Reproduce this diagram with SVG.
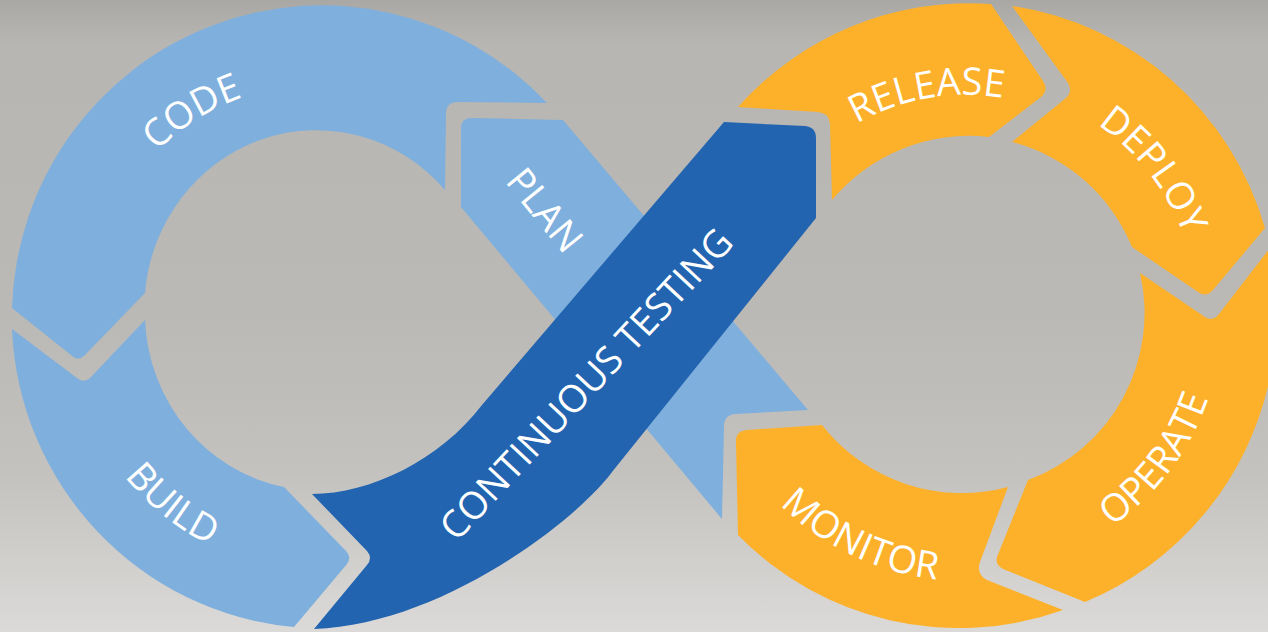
<svg xmlns="http://www.w3.org/2000/svg" xmlns:xlink="http://www.w3.org/1999/xlink" width="1268" height="632" viewBox="0 0 1268 632">
<defs>
<linearGradient id="bg" x1="0" y1="0" x2="0" y2="1">
<stop offset="0" stop-color="#a9a8a5"/>
<stop offset="0.07" stop-color="#b7b6b2"/>
<stop offset="0.5" stop-color="#bab9b5"/>
<stop offset="0.75" stop-color="#c3c2bf"/>
<stop offset="1" stop-color="#dbdad8"/>
</linearGradient>
<path id="pCode" d="M 116.4,206 A 227,231 0 0 1 310.2,85.1"/>
<path id="pBuild" d="M 86.2,410.9 A 250,254 0 0 0 282.4,567.5"/>
<path id="pRelease" d="M 823.9,146.7 A 220,220 0 0 1 1041.6,108.3"/>
<path id="pDeploy" d="M 1053,101 A 231,231 0 0 1 1195.7,283.7"/>
<path id="pOperate" d="M 1066,551.6 A 256,256 0 0 0 1220.1,347.2"/>
<path id="pMonitor" d="M 747.6,466.1 A 265,265 0 0 0 986.8,580.2"/>
</defs>
<style>
.lb{fill:#7fafdd}
.db{fill:#2264b0}
.or{fill:#fdb12b}
.lbl{font-family:"Open Sans","Liberation Sans",sans-serif;font-size:38px;fill:#ffffff}
</style>
<rect x="0" y="0" width="1268" height="632" fill="url(#bg)"/>
<g id="code">
<path class="lb" d="M 12,308 A 310,312.5 0 0 1 547,103 L 458,102 Q 446,102 446,114 L 445,190 A 172,178 0 0 0 145,293 L 85,355 Q 78,362 71,355 Z"/>
<text class="lbl" text-anchor="middle"><textPath xlink:href="#pCode" href="#pCode" startOffset="50%">CODE</textPath></text>
</g>
<g id="build">
<path class="lb" d="M 12,329 L 77,378 Q 84,384 91,377 L 145,320 A 172,178 0 0 0 284,487 L 346,551 Q 352,557 347,564 L 294,627 A 310,312.5 0 0 1 12,329 Z"/>
<text class="lbl" text-anchor="middle"><textPath xlink:href="#pBuild" href="#pBuild" startOffset="50%">BUILD</textPath></text>
</g>
<g id="release">
<path class="or" d="M 738,107 A 310,312 0 0 1 991,4 L 1043,81 Q 1049,90 1041,97 L 989,137 A 178,178 0 0 0 832,200 L 830,124 Q 829,113 818,112 Z"/>
<text class="lbl" text-anchor="middle"><textPath xlink:href="#pRelease" href="#pRelease" startOffset="50%">RELEASE</textPath></text>
</g>
<g id="deploy">
<path class="or" d="M 1012,6 A 310,312 0 0 1 1265,228 L 1213,290 Q 1206,298 1198,292 L 1132,247 A 178,178 0 0 0 1012,142 L 1066,98 Q 1073,91 1068,83 Z"/>
<text class="lbl" text-anchor="middle"><textPath xlink:href="#pDeploy" href="#pDeploy" startOffset="50%">DEPLOY</textPath></text>
</g>
<g id="operate">
<path class="or" d="M 1140,273 L 1205,317 Q 1213,322 1219,314 L 1290,222 L 1290,380 L 1269.5,380 A 310,312 0 0 1 1085,602 L 1003,569 Q 995,565 997,557 L 1028,480 A 178,178 0 0 0 1140,273 Z"/>
<text class="lbl" text-anchor="middle"><textPath xlink:href="#pOperate" href="#pOperate" startOffset="50%">OPERATE</textPath></text>
</g>
<g id="monitor">
<path class="or" d="M 1008,487 L 980,562 Q 976,574 987,580 L 1063,610 A 310,312 0 0 1 738,535 L 736,443 Q 735,431 747,430 L 822,425 A 178,178 0 0 0 1008,487 Z"/>
<text class="lbl" text-anchor="middle"><textPath xlink:href="#pMonitor" href="#pMonitor" startOffset="50%">MONITOR</textPath></text>
</g>
<g id="plan">
<path class="lb" d="M 461,128 Q 461,118 472,118 L 563,120 L 808,410 L 735,414 Q 724,415 724,426 L 722,519 L 461,207 Z"/>
<text class="lbl" text-anchor="middle" x="0" y="13.6" transform="translate(545,210) rotate(51)">PLAN</text>
</g>
<g id="continuous-testing">
<path class="db" d="M 314,629 L 367,565 Q 373,558 367,551 L 312,494 C 370,494 440,460 482,405 L 724,122 L 805,126 Q 816,127 816,138 L 816,218 L 612,472 C 575,522 440,625 314,629 Z"/>
<text class="lbl" text-anchor="middle" x="0" y="13.6" transform="translate(586,384) rotate(-47)">CONTINUOUS TESTING</text>
</g>
<g id="connectors"/>
</svg>
